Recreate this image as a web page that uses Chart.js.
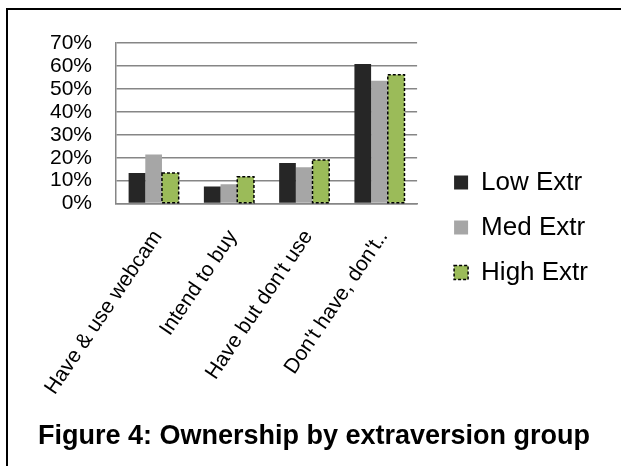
<!DOCTYPE html>
<html><head><meta charset="utf-8">
<script src="https://cdn.jsdelivr.net/npm/chart.js@4"></script>
<style>
html,body{margin:0;padding:0;background:#fff;}
#wrap{position:relative;width:621px;height:466px;overflow:hidden;background:#fff;}
#frame{position:absolute;left:6px;top:8px;width:700px;height:600px;border-left:2px solid #000;border-top:2px solid #000;}
canvas{position:absolute;left:0;top:0;}
</style></head><body>
<div id="wrap"><div id="frame"></div><canvas id="c" width="621" height="466"></canvas></div>
<script>
const categories = ["Have & use webcam", "Intend to buy", "Have but don't use", "Don't have, don't.."];
const seriesNames = ["Low Extr", "Med Extr", "High Extr"];
const lowExtr = [13.3, 7.5, 17.7, 60.9];
const medExtr = [21.4, 8.4, 15.8, 53.6];
const highExtr = [13.3, 11.7, 19.0, 56.2];
const yMax = 70;
const yStep = 10;
const titleText = "Figure 4: Ownership by extraversion group";

const FONT = "'Liberation Sans', Arial, sans-serif";

const dashedBorder = {
  id: 'dashedBorder',
  afterDatasetsDraw(chart) {
    const meta = chart.getDatasetMeta(2);
    const ctx = chart.ctx;
    ctx.save();
    ctx.setLineDash([3, 2]);
    ctx.lineWidth = 1.5;
    ctx.strokeStyle = '#000';
    meta.data.forEach(bar => {
      const p = bar.getProps(['x', 'y', 'base', 'width'], true);
      ctx.strokeRect(p.x - p.width / 2, p.y, p.width, p.base - p.y);
    });
    ctx.restore();
  }
};

const legendShift = {
  id: 'legendShift',
  afterLayout(chart) {
    const l = chart.legend;
    if (l) { l.top -= 27; l.bottom -= 27; }
  }
};

const spacer = (pos, weight, w) => ({
  type: 'linear', position: pos, weight: weight, min: 0, max: 1, display: true,
  grid: { display: false, drawTicks: false }, border: { display: false },
  ticks: { display: false },
  afterFit(scale) { scale.width = w; }
});

new Chart(document.getElementById('c'), {
  type: 'bar',
  data: {
    labels: categories,
    datasets: [
      { label: seriesNames[0], data: lowExtr, backgroundColor: '#262626', borderWidth: 0 },
      { label: seriesNames[1], data: medExtr, backgroundColor: '#A6A6A6', borderWidth: 0 },
      { label: seriesNames[2], data: highExtr, backgroundColor: '#9BBB59', borderWidth: 0 }
    ]
  },
  options: {
    responsive: false,
    animation: false,
    devicePixelRatio: 1,
    datasets: { bar: { categoryPercentage: 0.665, barPercentage: 1.0 } },
    layout: { padding: { top: 43, left: 7, right: 0, bottom: 0 } },
    scales: {
      x: {
        grid: { display: false },
        border: { display: true, color: '#868686', width: 1.5 },
        ticks: { font: { family: FONT, size: 21 }, color: '#000', minRotation: 56, maxRotation: 56, autoSkip: false, padding: 14, labelOffset: 4 },
        afterFit(scale) { scale.height = 206; }
      },
      y: {
        min: 0, max: yMax,
        grid: { color: '#868686', lineWidth: 1.5, drawTicks: false },
        border: { display: true, color: '#868686', width: 1.5 },
        ticks: { stepSize: yStep, autoSkip: false, font: { family: FONT, size: 21 }, color: '#000', padding: 24, callback: v => v + '%' },
        afterFit(scale) { scale.width = 109; }
      },
      gapInner: spacer('right', 1, 18),
      gapOuter: spacer('right', 2000, 23)
    },
    plugins: {
      tooltip: { enabled: false },
      legend: {
        position: 'right',
        maxWidth: 300,
        labels: {
          font: { family: FONT, size: 26 }, color: '#000', boxWidth: 14, boxHeight: 14, padding: 19,
          generateLabels(chart) {
            const items = Chart.defaults.plugins.legend.labels.generateLabels(chart);
            items.forEach(it => { it.lineWidth = 0; });
            if (items[2]) { items[2].lineWidth = 1.5; items[2].strokeStyle = '#000'; items[2].lineDash = [3, 2]; }
            return items;
          }
        }
      },
      title: {
        display: true, position: 'bottom', text: titleText, color: '#000',
        font: { family: FONT, size: 27, weight: 'bold' },
        padding: { top: 11, bottom: 13 }
      }
    }
  },
  plugins: [dashedBorder, legendShift]
});
</script>
</body></html>
